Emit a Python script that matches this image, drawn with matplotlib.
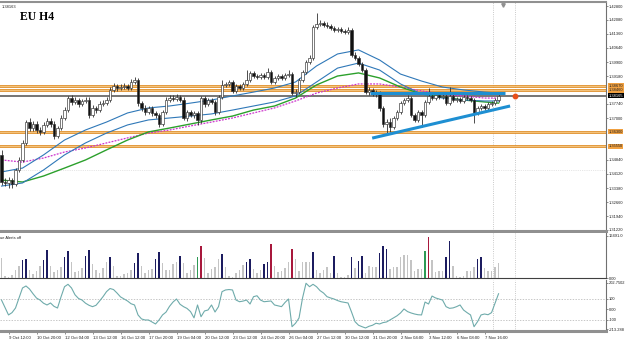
import matplotlib
matplotlib.use('Agg')
import matplotlib.pyplot as plt
import matplotlib.transforms as mtransforms
import numpy as np

# ---------------- data (EURUSD H4) ----------------
first_open = 1.3510
closes = [1.3370, 1.3365, 1.3380, 1.3360, 1.3432, 1.3484, 1.3572, 1.3680, 1.3649, 1.3670,
          1.3639, 1.3629, 1.3665, 1.3685, 1.3670, 1.3608, 1.3649, 1.3701, 1.3742, 1.3804,
          1.3784, 1.3794, 1.3773, 1.3789, 1.3794, 1.3716, 1.3753, 1.3742, 1.3773, 1.3778,
          1.3794, 1.3846, 1.3866, 1.3856, 1.3861, 1.3866, 1.3856, 1.3887, 1.3897, 1.3778,
          1.3753, 1.3732, 1.3753, 1.3727, 1.3716, 1.3670, 1.3732, 1.3794, 1.3804, 1.3799,
          1.3810, 1.3794, 1.3701, 1.3732, 1.3716, 1.3727, 1.3691, 1.3804, 1.3773, 1.3794,
          1.3784, 1.3732, 1.3810, 1.3872, 1.3877, 1.3887, 1.3841, 1.3866, 1.3856, 1.3877,
          1.3897, 1.3934, 1.3918, 1.3913, 1.3923, 1.3913, 1.3939, 1.3887, 1.3908, 1.3918,
          1.3908, 1.3923, 1.3928, 1.3830, 1.3835, 1.3897, 1.3939, 1.3990, 1.4011, 1.4171,
          1.4187, 1.4192, 1.4182, 1.4177, 1.4166, 1.4156, 1.4161, 1.4151, 1.4146, 1.4156,
          1.4027, 1.4011, 1.3980, 1.3949, 1.3835, 1.3846, 1.3825, 1.3830, 1.3753, 1.3670,
          1.3680, 1.3654, 1.3701, 1.3732, 1.3778, 1.3794, 1.3804, 1.3716, 1.3691, 1.3732,
          1.3716, 1.3784, 1.3815, 1.3804, 1.3820, 1.3810, 1.3815, 1.3778, 1.3815, 1.3794,
          1.3799, 1.3789, 1.3810, 1.3804, 1.3794, 1.3727, 1.3753, 1.3763, 1.3753, 1.3773,
          1.3778, 1.3794, 1.3815]
highs = [1.3536, 1.3391, 1.3396, 1.3391, 1.3442, 1.3499, 1.3587, 1.3691, 1.3701, 1.3685,
         1.3685, 1.3654, 1.3680, 1.3701, 1.3701, 1.3685, 1.3660, 1.3716, 1.3758, 1.3815,
         1.3820, 1.3810, 1.3804, 1.3799, 1.3810, 1.3810, 1.3768, 1.3763, 1.3789, 1.3794,
         1.3810, 1.3861, 1.3882, 1.3877, 1.3877, 1.3882, 1.3877, 1.3903, 1.3913, 1.3908,
         1.3789, 1.3768, 1.3763, 1.3763, 1.3737, 1.3727, 1.3742, 1.3810, 1.3820, 1.3820,
         1.3825, 1.3820, 1.3810, 1.3742, 1.3742, 1.3737, 1.3737, 1.3815, 1.3815, 1.3804,
         1.3804, 1.3794, 1.3820, 1.3897, 1.3887, 1.3897, 1.3897, 1.3877, 1.3877, 1.3887,
         1.3949, 1.3944, 1.3944, 1.3928, 1.3934, 1.3934, 1.3959, 1.3949, 1.3918, 1.3928,
         1.3928, 1.3934, 1.3949, 1.3939, 1.3851, 1.3908, 1.3949, 1.4001, 1.4027, 1.4182,
         1.4244, 1.4208, 1.4202, 1.4197, 1.4187, 1.4177, 1.4171, 1.4171, 1.4161, 1.4171,
         1.4166, 1.4042, 1.4021, 1.3990, 1.3959, 1.3861, 1.3856, 1.3846, 1.3841, 1.3763,
         1.3696, 1.3701, 1.3711, 1.3742, 1.3789, 1.3804, 1.3820, 1.3815, 1.3727, 1.3742,
         1.3742, 1.3794, 1.3856, 1.3825, 1.3830, 1.3830, 1.3825, 1.3825, 1.3861, 1.3825,
         1.3810, 1.3810, 1.3820, 1.3820, 1.3815, 1.3804, 1.3763, 1.3773, 1.3773, 1.3784,
         1.3789, 1.3804, 1.3825]
lows = [1.3355, 1.3349, 1.3339, 1.3339, 1.3349, 1.3422, 1.3473, 1.3561, 1.3634, 1.3634,
        1.3623, 1.3613, 1.3618, 1.3654, 1.3654, 1.3592, 1.3598, 1.3639, 1.3691, 1.3732,
        1.3768, 1.3773, 1.3758, 1.3763, 1.3778, 1.3701, 1.3706, 1.3727, 1.3732, 1.3763,
        1.3768, 1.3784, 1.3835, 1.3841, 1.3846, 1.3851, 1.3846, 1.3846, 1.3877, 1.3763,
        1.3737, 1.3716, 1.3722, 1.3711, 1.3701, 1.3654, 1.3660, 1.3722, 1.3784, 1.3789,
        1.3789, 1.3784, 1.3691, 1.3685, 1.3706, 1.3701, 1.3665, 1.3675, 1.3758, 1.3763,
        1.3773, 1.3716, 1.3722, 1.3799, 1.3861, 1.3866, 1.3830, 1.3830, 1.3846, 1.3846,
        1.3866, 1.3887, 1.3908, 1.3903, 1.3903, 1.3903, 1.3903, 1.3877, 1.3877, 1.3897,
        1.3897, 1.3897, 1.3913, 1.3820, 1.3810, 1.3825, 1.3887, 1.3928, 1.3980, 1.4001,
        1.4161, 1.4177, 1.4171, 1.4166, 1.4156, 1.4146, 1.4146, 1.4140, 1.4135, 1.4135,
        1.4016, 1.4001, 1.3970, 1.3939, 1.3825, 1.3820, 1.3815, 1.3810, 1.3737, 1.3654,
        1.3613, 1.3629, 1.3644, 1.3691, 1.3722, 1.3768, 1.3784, 1.3706, 1.3680, 1.3680,
        1.3654, 1.3706, 1.3773, 1.3794, 1.3794, 1.3799, 1.3799, 1.3768, 1.3768, 1.3784,
        1.3784, 1.3778, 1.3778, 1.3794, 1.3784, 1.3675, 1.3716, 1.3742, 1.3742, 1.3742,
        1.3763, 1.3768, 1.3784]

volumes = [7936, 640, 384, 1280, 2944, 4480, 7040, 7296, 3200, 1536,
           2560, 4480, 7040, 10880, 4736, 2176, 2944, 4096, 8064, 10496,
           6016, 2176, 2560, 3840, 8576, 10880, 5376, 3200, 1920, 3840,
           6400, 8320, 4480, 640, 640, 1664, 1920, 2944, 5760, 9856,
           4736, 1920, 2944, 3456, 7296, 9984, 5760, 3200, 3200, 5504,
           6016, 8576, 5760, 1920, 2944, 5120, 8320, 12416, 7680, 1920,
           3456, 4096, 7296, 9344, 4096, 640, 384, 1920, 3200, 5120,
           6016, 7296, 3456, 1920, 2944, 5376, 6016, 13184, 4480, 2176,
           2560, 3840, 6400, 11264, 7296, 2816, 6016, 6016, 6016, 9984,
           3200, 1920, 3200, 4224, 1920, 8576, 1920, 384, 384, 1280,
           8320, 3840, 6656, 8704, 1920, 4736, 4224, 4224, 9600, 12416,
           11264, 3456, 4096, 4096, 8064, 8960, 8960, 7040, 2816, 3584,
           3584, 10624, 16000, 7040, 2304, 2560, 2560, 8320, 14464, 4736,
           640, 384, 896, 2816, 2816, 4096, 7296, 8320, 3840, 2560,
           2560, 4096, 5760]
# g = normal, b = high volume, r = climax, n = low-volume churn
vol_kind = ("ggggggbbgg" "ggbbggggbb" "ggggbbgggg" "gbggggggbb" "ggggbbgggg"
            "gbggggnrgg" "gggbgggggg" "bbgggbbrgg" "gggrgggggb" "gggggbgggg"
            "bgbbggggbb" "bggggggggg" "gnrggggbbg" "ggggggbbgg" "ggg")

cci = [90, 20, -52, -30, 14, 110, 205, 224, 195, 150,
       109, 90, 60, 43, 62, 30, 14, 120, 217, 240,
       205, 140, 105, 90, 60, 40, 27, 40, 80, 122,
       170, 200, 190, 157, 120, 100, 81, 55, 43, -52,
       -90, -100, -100, -119, -138, -100, -52, -25, 30, 71,
       100, 50, 27, 10, -20, -80, 43, -69, -14, -5,
       43, -24, 27, 170, 186, 190, 186, 90, 74, 80,
       90, 52, 122, 131, 90, 74, 78, 81, 43, 35,
       27, 67, 100, -164, -131, -81, 109, 250, 217, 240,
       217, 180, 157, 122, 110, 100, 85, 74, 68, 62,
       -24, -116, -150, -164, -176, -160, -150, -131, -138, -125,
       -119, -100, -80, -60, -33, 5, -20, -33, -43, -50,
       -52, 71, 52, 128, 110, 100, 90, 27, 11, 15,
       27, 43, -5, -30, -52, -164, -116, -52, -43, -50,
       -30, 60, 150]

# moving averages, read every 6 bars
ma_bars = [0, 6, 12, 18, 24, 30, 36, 42, 48, 54, 60, 66, 72, 78, 84, 90, 96, 102,
           108, 114, 120, 126, 132, 138, 142]
ma_blue_upper = [1.3422, 1.3442, 1.3510, 1.3587, 1.3639, 1.3680, 1.3727, 1.3753, 1.3763,
                 1.3778, 1.3794, 1.3815, 1.3835, 1.3856, 1.3887, 1.3970, 1.4032, 1.4053,
                 1.4001, 1.3928, 1.3892, 1.3861, 1.3846, 1.3835, 1.3830]
ma_blue_lower = [1.3349, 1.3365, 1.3432, 1.3510, 1.3572, 1.3623, 1.3665, 1.3691, 1.3701,
                 1.3711, 1.3722, 1.3742, 1.3763, 1.3784, 1.3815, 1.3887, 1.3959, 1.3985,
                 1.3949, 1.3877, 1.3825, 1.3804, 1.3794, 1.3789, 1.3789]
ma_green = [1.3380, 1.3370, 1.3401, 1.3442, 1.3484, 1.3536, 1.3587, 1.3629, 1.3649,
            1.3670, 1.3691, 1.3711, 1.3742, 1.3763, 1.3804, 1.3872, 1.3918, 1.3934,
            1.3908, 1.3861, 1.3825, 1.3810, 1.3794, 1.3784, 1.3778]
ma_magenta = [1.3484, 1.3473, 1.3494, 1.3525, 1.3546, 1.3572, 1.3598, 1.3623, 1.3639,
              1.3660, 1.3680, 1.3701, 1.3727, 1.3753, 1.3789, 1.3830, 1.3856, 1.3877,
              1.3877, 1.3861, 1.3841, 1.3825, 1.3815, 1.3804, 1.3804]

orange_levels = [1.38670, 1.38460, 1.36300, 1.35550]
orange_labels = ['1.38670', '1.38460', '1.36300', '1.35550']
price_level = 1.38165
dotted_level = 1.3432
flat_line_x = [105.3, 143.9]
flat_line_y = [1.3830, 1.3830]
rising_line_x = [105.9, 145.3]
rising_line_y = [1.3597, 1.3763]
vlines_at = [140.4, 146.7]

price_ticks = [1.42800, 1.42080, 1.41360, 1.40640, 1.39900, 1.39180, 1.37740, 1.37000,
               1.34840, 1.34120, 1.33380, 1.32660, 1.31940, 1.31220]
time_bars = [2, 10, 18, 26, 34, 42, 50, 58, 66, 74, 82, 90, 98, 106, 114, 122, 130, 138]
time_labels = ['9 Oct 12:00', '10 Oct 20:00', '12 Oct 04:00', '13 Oct 12:00',
               '16 Oct 12:00', '17 Oct 20:00', '19 Oct 04:00', '20 Oct 12:00',
               '23 Oct 12:00', '24 Oct 20:00', '26 Oct 04:00', '27 Oct 12:00',
               '30 Oct 12:00', '31 Oct 20:00', '2 Nov 04:00', '3 Nov 12:00',
               '6 Nov 08:00', '7 Nov 16:00']

small_font = ['Liberation Sans', 'DejaVu Sans']
fs = 2.9

# ---------------- layout ----------------
W, H = 625.0, 341.0
fig = plt.figure(figsize=(6.25, 3.41), dpi=100)
fig.patch.set_facecolor('white')


def panel(top, bottom):
    a = fig.add_axes([0, 1 - bottom / H, 606 / W, (bottom - top) / H])
    a.set_xlim(-0.43, 172.7)
    a.set_xticks([])
    a.yaxis.tick_right()
    a.tick_params(axis='y', length=1.5, width=0.5, color='#606060', pad=0.8)
    a.spines['left'].set_visible(False)
    a.spines['right'].set_color('#707070')
    a.spines['right'].set_linewidth(0.8)
    return a


def style_labels(labels, size=fs):
    for t in labels:
        t.set_fontfamily(small_font)
        t.set_fontsize(size)
        t.set_color('#202020')


ax = panel(2, 231)
axv = panel(233, 278)
axc = panel(280, 331)

for a in (ax, axc):
    a.spines['bottom'].set_color('#909090')
    a.spines['bottom'].set_linewidth(2.2)
ax.spines['top'].set_color('#909090')
ax.spines['top'].set_linewidth(1.5)
axv.spines['top'].set_visible(False)
axv.spines['bottom'].set_color('#404040')
axv.spines['bottom'].set_linewidth(0.8)
axc.spines['top'].set_visible(False)

# ---------------- main price panel ----------------
n = len(closes)
bars = np.arange(n)
c = np.array(closes)
o = np.array([first_open] + closes[:-1])
ax.set_ylim(1.31167, 1.43007)

ax.axhline(dotted_level, color='#cfcfcf', lw=0.5, ls=':', zorder=1)
for lv in orange_levels:
    ax.axhline(lv, color='#e0902c', lw=2.0, zorder=2)
    ax.axhline(lv, color='#f7cc8c', lw=0.6, zorder=2)
ax.axhline(price_level, color='#6a6a6a', lw=1.3, zorder=2)
for xv in vlines_at:
    for a in (ax, axv, axc):
        a.axvline(xv, color='#b8b8b8', lw=0.6, ls=':', zorder=1)

ax.plot(ma_bars, ma_magenta, color='#cc33cc', lw=0.9, ls=(0, (1.5, 1)), zorder=3)
ax.plot(ma_bars, ma_green, color='#2ca02c', lw=1.0, zorder=3)
ax.plot(ma_bars, ma_blue_lower, color='#2f78b8', lw=0.8, zorder=3)
ax.plot(ma_bars, ma_blue_upper, color='#2f78b8', lw=0.8, zorder=3)

up = c >= o
ax.vlines(bars, lows, highs, color='#303030', lw=0.6, zorder=4)
ax.bar(bars, np.maximum(np.abs(c - o), 0.00012), bottom=np.minimum(o, c), width=0.62,
       color=np.where(up, 'white', '#111111'), edgecolor='#303030', linewidth=0.45, zorder=5)

ax.plot(flat_line_x, flat_line_y, color='#1e8fd2', lw=2.2, solid_capstyle='butt', zorder=6)
ax.plot(rising_line_x, rising_line_y, color='#1e8fd2', lw=2.2, solid_capstyle='butt', zorder=6)
ax.plot([vlines_at[1]], [price_level], 'o', ms=3.2, color='#e8501a', zorder=7)

ytr = mtransforms.blended_transform_factory(ax.transAxes, ax.transData)
ax.plot([143.3], [0.985], 'v', ms=2.5, color='#909090',
        transform=mtransforms.blended_transform_factory(ax.transData, ax.transAxes),
        clip_on=False, zorder=7)

ax.set_yticks(price_ticks)
ax.set_yticklabels(['%.5f' % p for p in price_ticks])
style_labels(ax.get_yticklabels())
for lv, txt in zip(orange_levels, orange_labels):
    ax.text(1.004, lv, txt, transform=ytr, fontsize=fs, fontfamily=small_font,
            va='center', ha='left', color='#202020', clip_on=False, zorder=8,
            bbox=dict(boxstyle='square,pad=0.15', fc='#f0a040', ec='none'))
ax.text(1.004, price_level, '1.38165', transform=ytr, fontsize=fs, fontfamily=small_font,
        va='center', ha='left', color='white', clip_on=False, zorder=8,
        bbox=dict(boxstyle='square,pad=0.15', fc='#000000', ec='none'))

ax.text(0.002, 0.985, '1.38163', transform=ax.transAxes, fontsize=fs,
        fontfamily=small_font, va='top', ha='left', color='#202020')
ax.text(20 / 606, 0.935, 'EU H4', transform=ax.transAxes, fontsize=8.5,
        fontfamily='Liberation Serif', fontweight='bold', va='center', ha='left')

# ---------------- volume panel ----------------
kind_colors = {'g': '#c4c4c4', 'b': '#1c1c60', 'r': '#a8183c', 'n': '#2e9a55'}
axv.bar(bars, volumes, width=0.45, color=[kind_colors[k] for k in vol_kind], zorder=3)
axv.set_ylim(0, 16491 * 45 / 42.5)
axv.set_yticks([16491, 0])
axv.set_yticklabels(['16491.0', '0.00'])
style_labels(axv.get_yticklabels())
axv.text(0.0, 0.93, 'ue Alerts off', transform=axv.transAxes, fontsize=fs,
         fontfamily=small_font, va='top', ha='left', color='#202020')

# ---------------- CCI panel ----------------
axc.set_ylim(-205, 281)
for lv in (100, -100):
    axc.axhline(lv, color='#b0b0b0', lw=0.5, ls=(0, (2, 2)), zorder=1)
axc.plot(bars, cci, color='#6fabab', lw=0.8, zorder=3)
axc.set_yticks([255, 100, 0, -100, -189])
axc.set_yticklabels(['202.7502', '100', '0.00', '-100', '-213.288'])
style_labels(axc.get_yticklabels())
axc.set_xticks(time_bars)
axc.set_xticklabels(time_labels, ha='left')
axc.tick_params(axis='x', length=2.5, width=0.5, color='#606060', pad=0.8)
style_labels(axc.get_xticklabels(), 3.1)

fig.savefig('out.png', dpi=100)
